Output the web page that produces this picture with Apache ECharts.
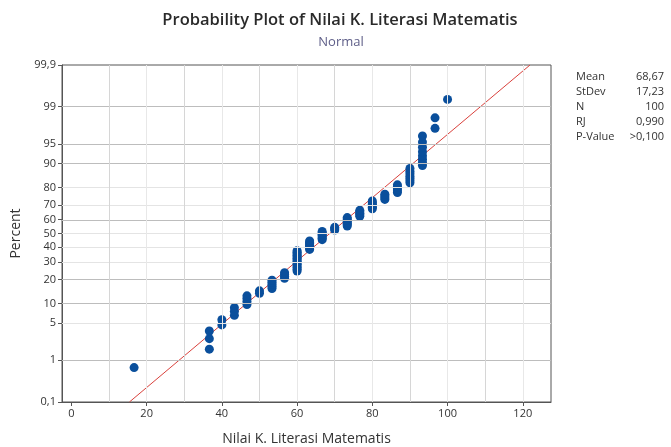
<!DOCTYPE html>
<html><head><meta charset="utf-8">
<script src="https://cdn.jsdelivr.net/npm/echarts@6/dist/echarts.min.js"></script>
<style>html,body{margin:0;padding:0;background:#fff}#c{width:671px;height:447px}</style>
</head><body><div id="c"></div>
<script>
// ---- data ----
const scoreValues = [16.67, 36.67, 40, 43.33, 46.67, 50, 53.33, 56.67, 60, 63.33, 66.67, 70, 73.33, 76.67, 80, 83.33, 86.67, 90, 93.33, 96.67, 100];
const scoreCounts = [1, 3, 2, 3, 4, 2, 5, 4, 14, 7, 7, 3, 7, 5, 6, 4, 5, 7, 8, 2, 1];
const percentTicks = [0.1, 1, 5, 10, 20, 30, 40, 50, 60, 70, 80, 90, 95, 99, 99.9];
const percentTickLabels = ['0,1', '1', '5', '10', '20', '30', '40', '50', '60', '70', '80', '90', '95', '99', '99,9'];
const strongGridPercents = [1, 10, 20, 60, 90, 95, 99];
const xTicks = [0, 20, 40, 60, 80, 100, 120];
const xGridValues = [10, 20, 30, 40, 50, 60, 70, 80, 90, 100, 110, 120];
const statNames = ['Mean', 'StDev', 'N', 'RJ', 'P-Value'];
const statValues = ['68,67', '17,23', '100', '0,990', '>0,100'];
const fitMean = 68.67;
const fitStdDev = 17.23;

// inverse standard normal CDF (Acklam)
function invNorm(p) {
  const a = [-3.969683028665376e+01, 2.209460984245205e+02, -2.759285104469687e+02, 1.383577518672690e+02, -3.066479806614716e+01, 2.506628277459239e+00];
  const b = [-5.447609879822406e+01, 1.615858368580409e+02, -1.556989798598866e+02, 6.680131188771972e+01, -1.328068155288572e+01];
  const c = [-7.784894002430293e-03, -3.223964580411365e-01, -2.400758277161838e+00, -2.549732539343734e+00, 4.374664141464968e+00, 2.938163982698783e+00];
  const d = [7.784695709041462e-03, 3.224671290700398e-01, 2.445134137142996e+00, 3.754408661907416e+00];
  const pl = 0.02425, ph = 1 - pl;
  let q, r;
  if (p < pl) { q = Math.sqrt(-2 * Math.log(p)); return (((((c[0]*q+c[1])*q+c[2])*q+c[3])*q+c[4])*q+c[5]) / ((((d[0]*q+d[1])*q+d[2])*q+d[3])*q+1); }
  if (p <= ph) { q = p - 0.5; r = q*q; return (((((a[0]*r+a[1])*r+a[2])*r+a[3])*r+a[4])*r+a[5])*q / (((((b[0]*r+b[1])*r+b[2])*r+b[3])*r+b[4])*r+1); }
  q = Math.sqrt(-2 * Math.log(1 - p)); return -(((((c[0]*q+c[1])*q+c[2])*q+c[3])*q+c[4])*q+c[5]) / ((((d[0]*q+d[1])*q+d[2])*q+d[3])*q+1);
}

const zMin = invNorm(percentTicks[0] / 100);
const zMax = invNorm(percentTicks[percentTicks.length - 1] / 100);
const zTicks = percentTicks.map(p => invNorm(p / 100));

// plotting positions (Benard median ranks)
const n = scoreCounts.reduce((s, v) => s + v, 0);
const points = [];
let rank = 0;
scoreValues.forEach((v, k) => {
  for (let j = 0; j < scoreCounts[k]; j++) {
    rank++;
    points.push([v, invNorm((rank - 0.3) / (n + 0.4))]);
  }
});
const fitLine = [[fitMean + zMin * fitStdDev, zMin], [fitMean + zMax * fitStdDev, zMax]];

const gridLines = [];
percentTicks.forEach((p, i) => {
  if (i === 0 || i === percentTicks.length - 1) return;
  const strong = strongGridPercents.indexOf(p) >= 0;
  gridLines.push({ yAxis: zTicks[i], lineStyle: { color: strong ? '#bdbdbd' : '#e4e4e4', width: 1, type: 'solid' } });
});
xGridValues.forEach(x => {
  gridLines.push({ xAxis: x, lineStyle: { color: (x % 20 === 0) ? '#e8e8e8' : '#d6d6d6', width: 1, type: 'solid' } });
});

const FONT = "'Open Sans', 'Noto Sans', sans-serif";
const chart = echarts.init(document.getElementById('c'), null, { renderer: 'canvas' });

const graphics = [];
statNames.forEach((nm, i) => {
  graphics.push({ type: 'text', left: 576, top: 71 + i * 15, style: { text: nm, font: '11px ' + FONT, fill: '#333' } });
  graphics.push({ type: 'text', right: 7, top: 71 + i * 15, style: { text: statValues[i], font: '11px ' + FONT, fill: '#333', textAlign: 'right' } });
});

chart.setOption({
  animation: false,
  backgroundColor: '#fff',
  title: [
    { text: 'Probability Plot of Nilai K. Literasi Matematis', left: 335, top: 7, textAlign: 'center',
      textStyle: { fontFamily: FONT, fontSize: 16.5, fontWeight: 600, color: '#2a2a2a' } },
    { text: 'Normal', left: 336, top: 31, textAlign: 'center',
      textStyle: { fontFamily: FONT, fontSize: 13, fontWeight: 'normal', color: '#5e5e88' } }
  ],
  grid: { left: 62, right: 120, top: 65, bottom: 45, outerBoundsMode: 'none', containLabel: false,
    show: true, borderColor: '#555', borderWidth: 1, backgroundColor: 'transparent' },
  xAxis: {
    type: 'value', min: -2.5, max: 127.5,
    name: 'Nilai K. Literasi Matematis', nameLocation: 'middle', nameGap: 30,
    nameTextStyle: { fontFamily: FONT, fontSize: 14, color: '#333' },
    axisLine: { show: true, onZero: false, lineStyle: { color: '#555' } },
    axisTick: { show: true, length: 4, lineStyle: { color: '#555' }, customValues: xTicks },
    axisLabel: { fontFamily: FONT, fontSize: 11, color: '#333', margin: 6, customValues: xTicks },
    splitLine: { show: false }
  },
  yAxis: {
    type: 'value', min: zMin, max: zMax,
    name: 'Percent', nameLocation: 'middle', nameGap: 30, nameRotate: 90,
    nameTextStyle: { fontFamily: FONT, fontSize: 14, color: '#333' },
    axisLine: { show: true, onZero: false, lineStyle: { color: '#555' } },
    axisTick: { show: true, length: 4, lineStyle: { color: '#555' }, customValues: zTicks },
    axisLabel: {
      fontFamily: FONT, fontSize: 11, color: '#333', margin: 6, customValues: zTicks,
      formatter: v => {
        let best = 0, bd = Infinity;
        zTicks.forEach((z, i) => { const d = Math.abs(z - v); if (d < bd) { bd = d; best = i; } });
        return percentTickLabels[best];
      }
    },
    splitLine: { show: false }
  },
  graphic: graphics,
  series: [
    { type: 'line', data: [], silent: true, z: 1,
      markLine: { silent: true, symbol: ['none', 'none'], label: { show: false }, animation: false, data: gridLines } },
    { type: 'line', data: fitLine, symbol: 'none', silent: true, z: 2,
      lineStyle: { color: '#d9413c', width: 1 } },
    { type: 'scatter', data: points, symbol: 'circle', symbolSize: 9, z: 3,
      itemStyle: { color: '#0a4f9c', opacity: 1 } }
  ]
});
</script>
</body></html>
